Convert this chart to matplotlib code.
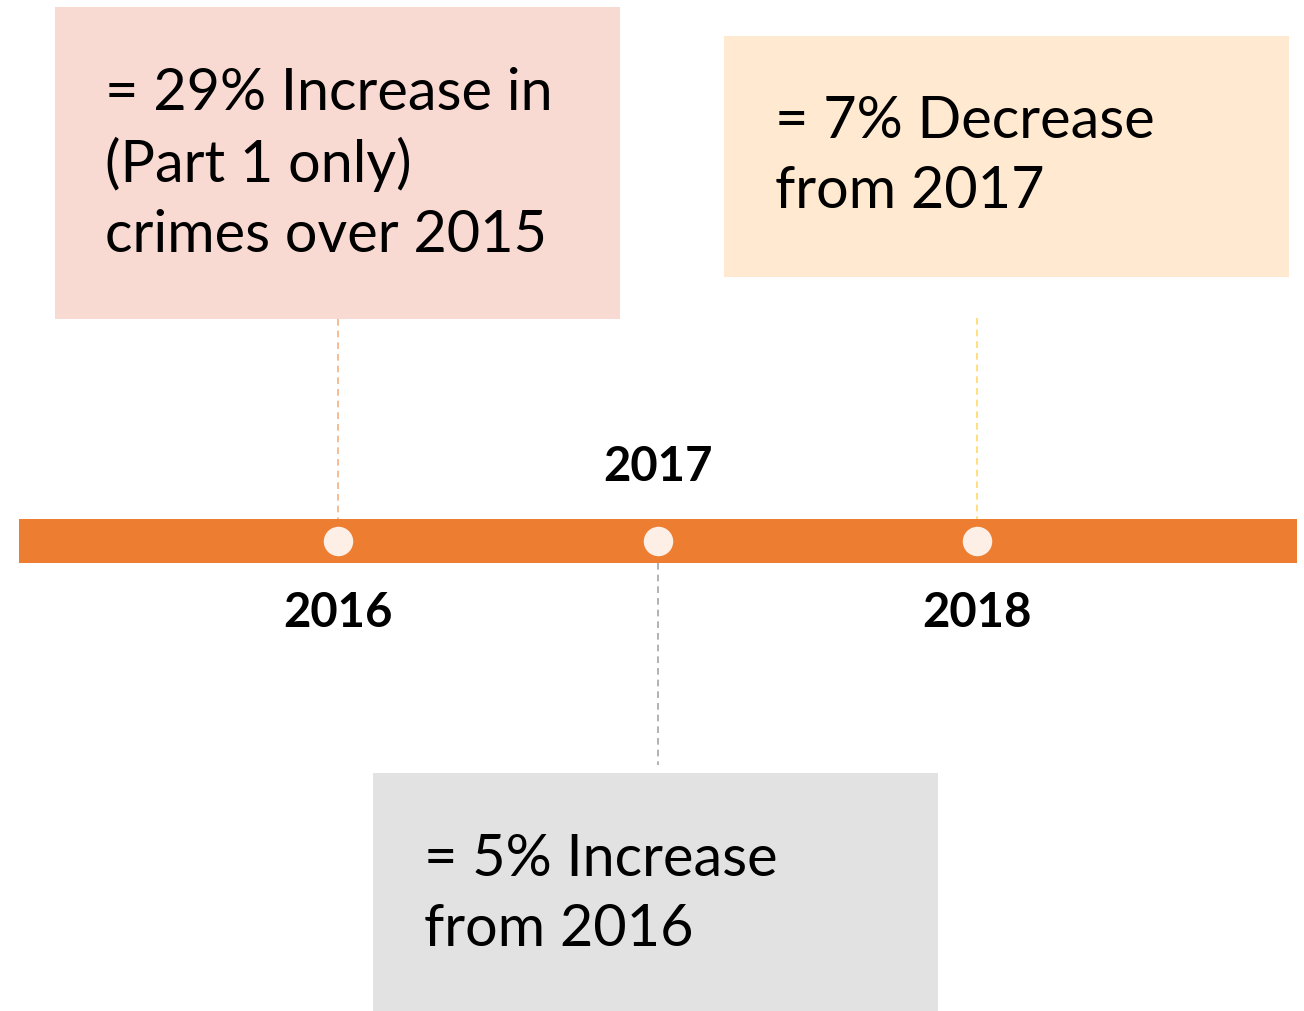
import matplotlib
matplotlib.use("Agg")
import matplotlib.pyplot as plt
from matplotlib.patches import Rectangle

# ---- data ----
years = [2016, 2017, 2018]
year_labels = ["2016", "2017", "2018"]
notes = [
    "= 29% Increase in\n(Part 1 only)\ncrimes over 2015",
    "= 5% Increase\nfrom 2016",
    "= 7% Decrease\nfrom 2017",
]
box_colors = ["#F8DAD2", "#E2E2E2", "#FFE9D0"]
line_colors = ["#F4B183", "#A6A6A6", "#FFD966"]
bar_color = "#ED7D31"
dot_color = "#FDEFE6"

W, H = 1304, 1011
px_per_year = 319.5
x0 = 2016 - 338 / px_per_year

fig = plt.figure(figsize=(W / 100, H / 100), dpi=100)
ax = fig.add_axes([0, 0, 1, 1])
ax.set_xlim(x0, x0 + W / px_per_year)
ax.set_ylim(H, 0)
ax.axis("off")

def px(v):
    return v / px_per_year

FONT = "Lato"

# timeline bar
ax.add_patch(Rectangle((years[0] - 1, 519), (years[-1] + 1) - (years[0] - 1), 44,
                       facecolor=bar_color, edgecolor="none", zorder=2))
ax.scatter(years, [541] * len(years), s=450, color=dot_color, zorder=3, linewidths=0)

# boxes: (left offset px, top, height, text x offset px, first line y)
box_specs = [
    (-283, 7, 312, 50, 94, "up"),
    (-285, 773, 238, 51, 859, "down"),
    (-253, 36, 241, 51, 121, "up"),
]
for yr, note, bc, lc, spec in zip(years, notes, box_colors, line_colors, box_specs):
    loff, top, h, toff, ty, d = spec
    left = yr + px(loff)
    ax.add_patch(Rectangle((left, top), px(565), h, facecolor=bc, edgecolor="none", zorder=1))
    if d == "up":
        ax.plot([yr, yr], [top + h if yr != 2018 else 318, 519], color=lc, lw=1.2,
                ls=(0, (4, 3)), zorder=1)
    else:
        ax.plot([yr, yr], [563, 765], color=lc, lw=1.2, ls=(0, (4, 3)), zorder=1)
    for i, line in enumerate(note.split("\n")):
        ax.text(left + px(toff), ty + i * 70.5, line, fontsize=41.5, family=FONT,
                va="center", ha="left", color="black", zorder=4)

# year labels
label_y = {2016: 613, 2017: 467, 2018: 613}
for yr, lab in zip(years, year_labels):
    ax.text(yr, label_y[yr], lab, fontsize=34, family=FONT, weight="bold",
            ha="center", va="center", color="black", zorder=4)

fig.savefig("out.png", dpi=100)
